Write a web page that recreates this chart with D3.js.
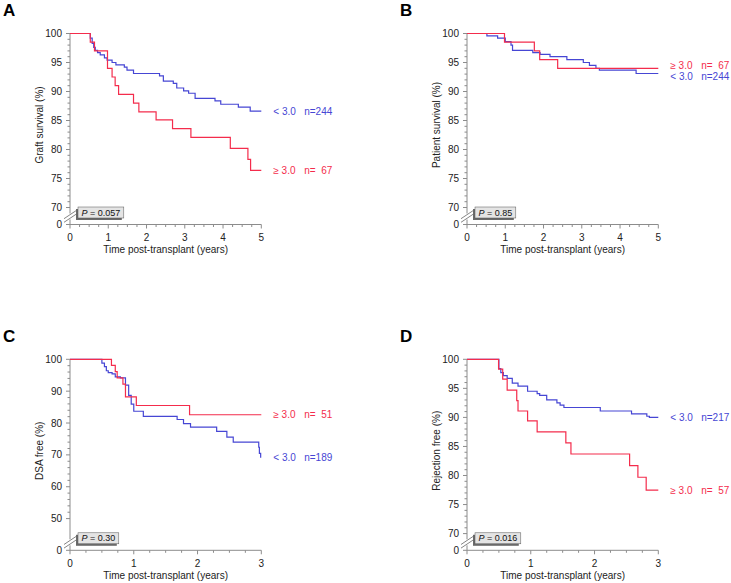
<!DOCTYPE html>
<html>
<head>
<meta charset="utf-8">
<script src="https://cdn.jsdelivr.net/npm/d3@7"></script>
<style>
  body { margin: 0; background: #fff; }
  svg { display: block; font-family: "Liberation Sans", Arial, sans-serif; }
</style>
</head>
<body>
<div id="chart"></div>
<script>
// ---- data: [years, percent] step points ----
const graftLow = [[0,100],[0.53,99.2],[0.58,98.3],[0.62,97.6],[0.66,97.1],[0.72,96.7],[0.79,96.3],[0.9,95.8],[0.97,95.4],[1.1,95.0],[1.2,94.6],[1.42,94.2],[1.49,93.7],[1.66,93.1],[2.34,92.7],[2.44,91.8],[2.7,91.4],[2.79,90.6],[2.97,90.1],[3.1,89.7],[3.27,88.8],[3.79,88.4],[3.94,87.8],[4.4,87.3],[4.71,86.6],[5,86.6]];
const graftHigh = [[0,100],[0.53,98.5],[0.64,97.0],[0.98,94.0],[1.1,92.5],[1.18,91.0],[1.27,89.5],[1.66,88.0],[1.8,86.5],[2.25,85.1],[2.68,83.6],[3.16,82.1],[4.19,80.2],[4.65,78.3],[4.72,76.4],[5,76.4]];

const patientLow = [[0,100],[0.52,99.6],[0.8,99.2],[1.0,98.6],[1.15,98.0],[1.19,97.1],[1.72,96.7],[1.91,96.4],[2.17,96.0],[2.61,95.5],[3.04,95.0],[3.2,94.5],[3.37,94.0],[3.46,93.7],[4.42,93.1],[5,93.1]];
const patientHigh = [[0,100],[0.98,98.5],[1.76,97.0],[1.9,95.5],[2.37,94.0],[5,94.0]];

const dsaLow = [[0,100],[0.5,98.8],[0.54,97.7],[0.57,96.4],[0.6,95.8],[0.66,95.4],[0.71,94.5],[0.79,94.2],[0.87,91.9],[0.92,88.7],[0.96,85.9],[1.0,83.7],[1.15,82.1],[1.68,81.1],[1.78,79.8],[1.89,78.7],[2.3,77.4],[2.46,75.6],[2.56,74.0],[2.96,72.4],[2.97,70.5],[2.99,69.1]];
const dsaHigh = [[0,100],[0.65,98.1],[0.71,96.1],[0.74,94.2],[0.83,92.2],[0.87,88.2],[1.04,85.5],[1.875,82.6],[3,82.6]];

const rejLow = [[0,100],[0.5,98.4],[0.53,97.7],[0.57,97.2],[0.63,96.7],[0.71,95.9],[0.8,95.4],[0.95,94.5],[1.1,94.1],[1.14,93.8],[1.25,93.0],[1.41,92.5],[1.46,92.1],[1.52,91.7],[2.09,91.1],[2.58,90.6],[2.82,90.2],[2.86,90.0],[3,90.0]];
const rejHigh = [[0,100],[0.495,98.3],[0.56,96.6],[0.63,94.7],[0.78,92.9],[0.8,91.1],[0.95,89.4],[1.1,87.5],[1.55,85.6],[1.63,83.7],[2.55,81.7],[2.68,79.7],[2.81,77.5],[3,77.5]];

const panelLetters = ["A", "B", "C", "D"];
const yTitles = ["Graft survival (%)", "Patient survival (%)", "DSA free (%)", "Rejection free (%)"];
const pValues = ["0.057", "0.85", "0.30", "0.016"];
const nLow = ["244", "244", "189", "217"];
const nHigh = ["67", "67", "51", "57"];
const yTicksFine = [0, 70, 75, 80, 85, 90, 95, 100];
const yTicksWide = [0, 50, 60, 70, 80, 90, 100];
const xTicks5 = [0, 1, 2, 3, 4, 5];
const xTicks3 = [0, 1, 2, 3];

const blue = "#4646d4";
const red = "#f42c4c";
const axisCol = "#8c8c8c";
const fs = "10px";

const panels = [
  { ox: 70, oy: 33.5, low: graftLow, high: graftHigh, xTicks: xTicks5, yTicks: yTicksFine, brk: 70, yMinor: 1, gap: 17 },
  { ox: 467, oy: 33.5, low: patientLow, high: patientHigh, xTicks: xTicks5, yTicks: yTicksFine, brk: 70, yMinor: 1, gap: 17 },
  { ox: 70, oy: 359.3, low: dsaLow, high: dsaHigh, xTicks: xTicks3, yTicks: yTicksWide, brk: 50, yMinor: 2, gap: 31.7 },
  { ox: 467, oy: 359.3, low: rejLow, high: rejHigh, xTicks: xTicks3, yTicks: yTicksFine, brk: 70, yMinor: 1, gap: 16.7 }
];

const W = 731, H = 583;
const plotW = 191.3, plotH = 191;

const svg = d3.select("#chart").append("svg")
  .attr("width", W).attr("height", H);

panels.forEach((p, i) => {
  const g = svg.append("g").attr("transform", `translate(${p.ox},${p.oy})`);
  const xMax = d3.max(p.xTicks);

  const x = d3.scaleLinear().domain([0, xMax]).range([0, plotW]);
  // broken y axis: 0 sits just under the break
  const y = d3.scaleLinear().domain([0, p.brk, 100]).range([plotH, plotH - p.gap, 0]);

  // panel letter
  svg.append("text")
    .attr("x", p.ox - 67).attr("y", p.oy - 17.5)
    .style("font-size", "17px").style("font-weight", "bold")
    .text(panelLetters[i]);

  // x axis
  g.append("line").attr("x1", 0).attr("x2", plotW).attr("y1", plotH).attr("y2", plotH)
    .attr("stroke", axisCol).attr("stroke-width", 1);
  const xMinor = d3.range(0, xMax + 0.001, 0.25);
  g.selectAll(".xminor").data(xMinor).enter().append("line")
    .attr("x1", d => x(d)).attr("x2", d => x(d))
    .attr("y1", plotH).attr("y2", d => plotH + (Number.isInteger(d) ? 4 : 2.5))
    .attr("stroke", axisCol);
  g.selectAll(".xlab").data(p.xTicks).enter().append("text")
    .attr("x", d => x(d)).attr("y", plotH + 16.5)
    .attr("text-anchor", "middle")
    .style("font-size", fs).attr("fill", "#222")
    .text(d => d);
  g.append("text")
    .attr("x", plotW / 2).attr("y", plotH + 28.5)
    .attr("text-anchor", "middle")
    .style("font-size", fs).attr("fill", "#222")
    .text("Time post-transplant (years)");

  // y axis (upper part, then stub under break)
  const brkY = plotH - 8;
  g.append("line").attr("x1", 0).attr("x2", 0).attr("y1", 0).attr("y2", brkY - 3)
    .attr("stroke", axisCol);
  g.append("line").attr("x1", 0).attr("x2", 0).attr("y1", brkY + 3).attr("y2", plotH)
    .attr("stroke", axisCol);
  const yMinor = d3.range(p.brk, 100.001, p.yMinor);
  g.selectAll(".yminor").data(yMinor).enter().append("line")
    .attr("x1", d => (d % (p.brk === 50 ? 10 : 5) === 0) ? -4 : -2.5).attr("x2", 0)
    .attr("y1", d => y(d)).attr("y2", d => y(d))
    .attr("stroke", axisCol);
  g.append("line").attr("x1", -4).attr("x2", 0).attr("y1", y(0)).attr("y2", y(0))
    .attr("stroke", axisCol);
  g.selectAll(".ylab").data(p.yTicks).enter().append("text")
    .attr("x", -8).attr("y", d => y(d))
    .attr("dy", "0.35em")
    .attr("text-anchor", "end")
    .style("font-size", fs).attr("fill", "#222")
    .text(d => d);
  // break marks
  [-1.8, 1.8].forEach(off => {
    g.append("line")
      .attr("x1", -6).attr("y1", brkY + off + 4)
      .attr("x2", 6).attr("y2", brkY + off - 4)
      .attr("stroke", "#666").attr("stroke-width", 0.8);
  });

  g.append("text")
    .attr("transform", `translate(-31,${plotH / 2 - 4}) rotate(-90)`)
    .attr("text-anchor", "middle")
    .attr("dy", "0.35em")
    .style("font-size", fs).attr("fill", "#222")
    .text(yTitles[i]);

  // P-value box
  const pb = g.append("g").attr("transform", `translate(8,${plotH - 17.5})`);
  const shadow = pb.append("rect").attr("fill", "#6a6a6a");
  const box = pb.append("rect").attr("fill", "#e4e4e4").attr("stroke", "#555").attr("stroke-width", 0.5);
  const pt = pb.append("text").attr("x", 3.5).attr("y", 8.6)
    .style("font-size", "9px").attr("fill", "#111");
  pt.append("tspan").style("font-style", "italic").text("P");
  pt.append("tspan").text(" = " + pValues[i]);
  const tw = pt.node().getComputedTextLength();
  box.attr("x", 0).attr("y", 0).attr("width", tw + 7).attr("height", 11);
  shadow.attr("x", -2).attr("y", 2).attr("width", tw + 7).attr("height", 11);

  // survival step curves
  const line = d3.line().x(d => x(d[0])).y(d => y(d[1])).curve(d3.curveStepAfter);
  g.append("path").datum(p.low).attr("d", line)
    .attr("fill", "none").attr("stroke", blue).attr("stroke-width", 1.2);
  g.append("path").datum(p.high).attr("d", line)
    .attr("fill", "none").attr("stroke", red).attr("stroke-width", 1.2);

  // end labels
  const lastLow = p.low[p.low.length - 1][1];
  const lastHigh = p.high[p.high.length - 1][1];
  let yLow = y(lastLow), yHigh = y(lastHigh);
  if (Math.abs(yLow - yHigh) < 11) {
    const mid = (yLow + yHigh) / 2;
    if (yLow > yHigh) { yLow = mid + 5.5; yHigh = mid - 5.5; } else { yLow = mid - 5.5; yHigh = mid + 5.5; }
  }
  const labels = [
    { yy: yLow, grp: "< 3.0", n: nLow[i], col: blue },
    { yy: yHigh, grp: "\u2265 3.0", n: nHigh[i], col: red }
  ];
  labels.forEach(l => {
    const lg = g.append("g").attr("fill", l.col).style("font-size", fs);
    lg.append("text").attr("x", plotW + 12).attr("y", l.yy).attr("dy", "0.35em").text(l.grp);
    lg.append("text").attr("x", plotW + 43).attr("y", l.yy).attr("dy", "0.35em").text("n=");
    lg.append("text").attr("x", plotW + 71).attr("y", l.yy).attr("dy", "0.35em")
      .attr("text-anchor", "end").text(l.n);
  });
});
</script>
</body>
</html>
